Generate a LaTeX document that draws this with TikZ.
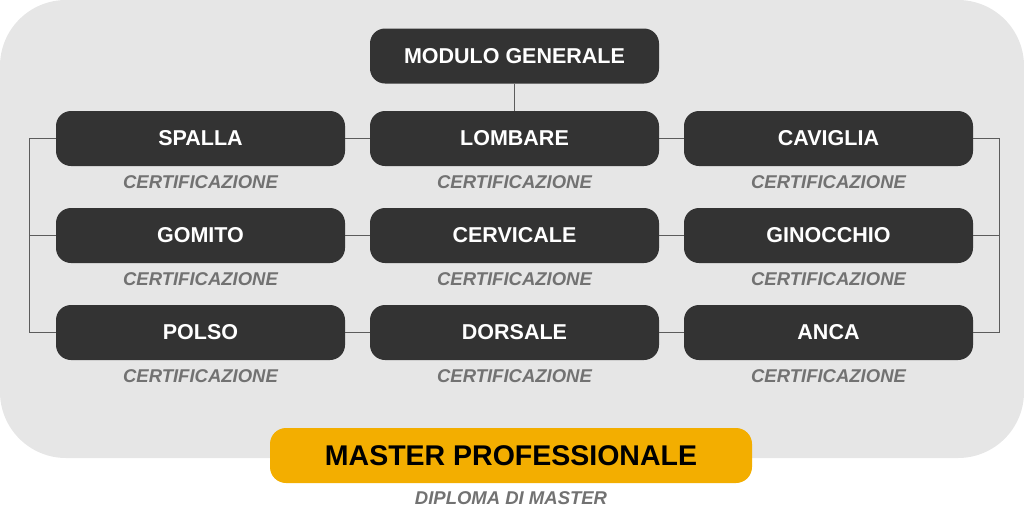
\documentclass[tikz,border=0pt]{standalone}
\usepackage{fontspec}
\setmainfont{Liberation Sans}
\usetikzlibrary{positioning}
\definecolor{bggray}{HTML}{E6E6E6}
\definecolor{boxgray}{HTML}{333333}
\definecolor{certgray}{HTML}{727272}
\definecolor{linegray}{HTML}{5C5C5C}
\definecolor{masteryellow}{HTML}{F3AE00}
\tikzset{
    box/.style = {rectangle, rounded corners=15pt, fill=boxgray, text=white, minimum width=289pt, minimum height=55pt, inner sep=0pt, font=\fontsize{21.5}{26}\bfseries\selectfont},
    masterbox/.style = {rectangle, rounded corners=16pt, fill=masteryellow, text=black, minimum width=482pt, minimum height=55pt, inner sep=0pt, font=\fontsize{28.5}{34}\bfseries\selectfont},
    cert/.style = {inner sep=0pt, text=certgray, font=\fontsize{18.5}{22}\bfseries\itshape\selectfont},
    link/.style = {draw=linegray, line width=1.2pt}
}
\begin{document}
\begin{tikzpicture}[x=1pt, y=-1pt]
  \useasboundingbox (0,0) rectangle (1024,509);
  % background panel
  \fill[bggray, rounded corners=66pt] (0,0) rectangle (1024,458);

  \node[box] (modulo) at (514.5,56) {MODULO GENERALE};

  \node[box] (spalla)  at (200.5,138.5) {SPALLA};
  \node[box] (lombare) at (514.5,138.5) {LOMBARE};
  \node[box] (caviglia) at (828.5,138.5) {CAVIGLIA};

  \node[box] (gomito)  at (200.5,235.5) {GOMITO};
  \node[box] (cervicale) at (514.5,235.5) {CERVICALE};
  \node[box] (ginocchio) at (828.5,235.5) {GINOCCHIO};

  \node[box] (polso)   at (200.5,332.5) {POLSO};
  \node[box] (dorsale) at (514.5,332.5) {DORSALE};
  \node[box] (anca)    at (828.5,332.5) {ANCA};

  \foreach \b in {spalla,lombare,caviglia,gomito,cervicale,ginocchio,polso,dorsale,anca}
    \node[cert, below=9pt of \b] (\b-cert) {CERTIFICAZIONE};

  \node[masterbox] (master) at (511,455.5) {MASTER PROFESSIONALE};
  \node[cert, below=8pt of master] (diploma) {DIPLOMA DI MASTER};

  % connectors
  \draw[link] (modulo.south) -- (lombare.north);
  \draw[link] (spalla.east) -- (lombare.west);
  \draw[link] (lombare.east) -- (caviglia.west);
  \draw[link] (gomito.east) -- (cervicale.west);
  \draw[link] (cervicale.east) -- (ginocchio.west);
  \draw[link] (polso.east) -- (dorsale.west);
  \draw[link] (dorsale.east) -- (anca.west);

  \draw[link] (spalla.west) -- ++(-26,0) coordinate (lb) |- (polso.west);
  \draw[link] (gomito.west) -- (gomito.west -| lb);
  \draw[link] (caviglia.east) -- ++(26,0) coordinate (rb) |- (anca.east);
  \draw[link] (ginocchio.east) -- (ginocchio.east -| rb);
\end{tikzpicture}
\end{document}
